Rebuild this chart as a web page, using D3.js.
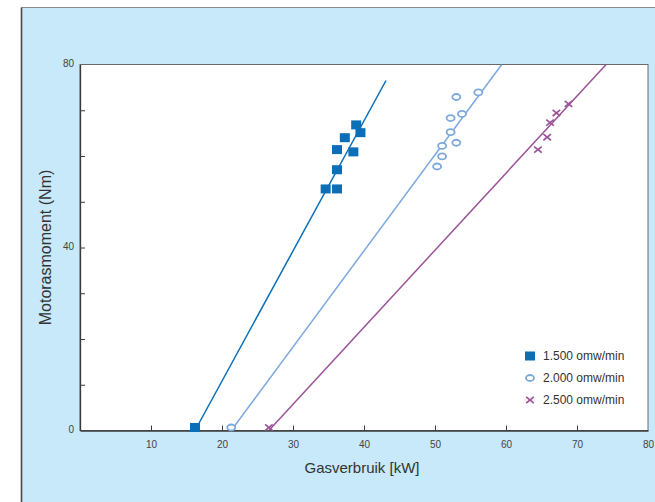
<!DOCTYPE html>
<html>
<head>
<meta charset="utf-8">
<script src="https://cdn.jsdelivr.net/npm/d3@7/dist/d3.min.js"></script>
<style>
  html, body { margin: 0; padding: 0; background: #ffffff; }
  svg { display: block; font-family: "Liberation Sans", Arial, Helvetica, sans-serif; }
</style>
</head>
<body>
<svg id="chart" width="655" height="502"></svg>
<script>
// Motor torque versus gas consumption at three engine speeds
const seriesNames = ["1.500 omw/min", "2.000 omw/min", "2.500 omw/min"];
const seriesColors = ["#0a6fb7", "#7ca8dd", "#9b5398"];
const seriesShapes = ["square", "circle", "cross"];

// measured points [gas kW, torque Nm]
const points1500 = [[16.2, 0], [34.6, 52.8], [36.2, 52.8], [36.2, 57.0], [36.2, 61.4],
                    [38.5, 60.9], [37.3, 64.0], [39.5, 65.1], [38.9, 66.8]];
const points2000 = [[21.3, 0], [50.3, 57.7], [51.0, 59.9], [51.0, 62.2], [53.0, 62.9],
                    [52.2, 65.2], [52.2, 68.3], [53.8, 69.2], [53.0, 72.9], [56.1, 73.9]];
const points2500 = [[26.6, 0], [64.5, 61.4], [65.8, 64.1], [66.2, 67.3], [67.1, 69.4], [68.8, 71.4]];

// fitted lines, start and end [gas kW, torque Nm]
const fit1500 = [[16.2, 0], [43.1, 76.5]];
const fit2000 = [[21.3, 0], [59.4, 80]];
const fit2500 = [[26.6, 0], [74.1, 80]];

const xTicks = [10, 20, 30, 40, 50, 60, 70, 80];
const yTicks = [0, 10, 20, 30, 40, 50, 60, 70, 80];
const yLabels = [0, 40, 80];

const allPoints = [points1500, points2000, points2500];
const allFits = [fit1500, fit2000, fit2500];

const svg = d3.select("#chart");

// light blue panel
svg.append("rect")
  .attr("x", 21.5).attr("y", 7.5)
  .attr("width", 700).attr("height", 600)
  .attr("fill", "#c8e9f9");
svg.append("line").attr("x1", 21.5).attr("x2", 655).attr("y1", 7.5).attr("y2", 7.5)
  .attr("stroke", "#8a8a8a").attr("stroke-width", 1);
svg.append("line").attr("x1", 21.5).attr("x2", 21.5).attr("y1", 7.5).attr("y2", 502)
  .attr("stroke", "#4a4a4a").attr("stroke-width", 1.6);

const plotLeft = 80, plotRight = 648, plotTop = 64.5, plotBottom = 430.5;
const x = d3.scaleLinear().domain([0, 80]).range([plotLeft, plotRight]);
const y = d3.scaleLinear().domain([0, 80]).range([plotBottom, plotTop]);

// plot area
svg.append("rect")
  .attr("x", plotLeft).attr("y", plotTop)
  .attr("width", plotRight - plotLeft).attr("height", plotBottom - plotTop)
  .attr("fill", "#ffffff")
  .attr("stroke", "#6a6a6a").attr("stroke-width", 1);

svg.append("defs").append("clipPath").attr("id", "plotClip")
  .append("rect").attr("x", plotLeft).attr("y", plotTop)
  .attr("width", plotRight - plotLeft).attr("height", plotBottom - plotTop);

// x axis: inward ticks, labels underneath
const xAxis = d3.axisBottom(x).tickValues(xTicks).tickSize(0).tickPadding(10)
  .tickFormat(d3.format("d"));
const gx = svg.append("g").attr("transform", `translate(0,${plotBottom})`).call(xAxis);
gx.select(".domain").attr("stroke", "#3a3a3a").attr("stroke-width", 1.3);
gx.selectAll(".tick text").attr("fill", "#444").attr("font-size", 10)
  .attr("font-family", "Liberation Sans, Arial, sans-serif");
gx.selectAll(".tick").filter(d => d < 80).append("line")
  .attr("y1", 0).attr("y2", -5).attr("stroke", "#3a3a3a");

// y axis: inward ticks every 10, labels at 0, 40, 80
const yAxis = d3.axisLeft(y).tickValues(yTicks).tickSize(0).tickPadding(6)
  .tickFormat(d => yLabels.includes(d) ? d3.format("d")(d) : "");
const gy = svg.append("g").attr("transform", `translate(${plotLeft},0)`).call(yAxis);
gy.select(".domain").attr("stroke", "#3a3a3a").attr("stroke-width", 1.3);
gy.selectAll(".tick text").attr("fill", "#444").attr("font-size", 10)
  .attr("font-family", "Liberation Sans, Arial, sans-serif").attr("dy", "0.2em");
gy.selectAll(".tick").filter(d => d > 0 && d < 80).append("line")
  .attr("x1", 0).attr("x2", 5).attr("stroke", "#3a3a3a");

// axis titles
svg.append("text")
  .attr("x", (plotLeft + plotRight) / 2 - 2).attr("y", 473)
  .attr("text-anchor", "middle").attr("font-size", 15).attr("fill", "#333")
  .text("Gasverbruik [kW]");
svg.append("text")
  .attr("transform", `translate(51,${(plotTop + plotBottom) / 2}) rotate(-90)`)
  .attr("text-anchor", "middle").attr("font-size", 16).attr("fill", "#333")
  .text("Motorasmoment (Nm)");

// fit lines
const line = d3.line().x(d => x(d[0])).y(d => y(d[1]));
const lines = svg.append("g").attr("clip-path", "url(#plotClip)");
allFits.forEach((f, i) => {
  lines.append("path").attr("d", line(f))
    .attr("fill", "none").attr("stroke", seriesColors[i]).attr("stroke-width", 1.5);
});

function drawMarker(g, shape, color, cx, cy) {
  if (shape === "square") {
    g.append("rect").attr("x", cx - 5).attr("y", cy - 4.5)
      .attr("width", 10).attr("height", 9).attr("fill", color);
  } else if (shape === "circle") {
    g.append("ellipse").attr("cx", cx).attr("cy", cy).attr("rx", 4).attr("ry", 3)
      .attr("fill", "#ffffff").attr("stroke", color).attr("stroke-width", 1.8);
  } else {
    const s = 3.8;
    g.append("path")
      .attr("d", `M${cx - s},${cy - s * 0.8}L${cx + s},${cy + s * 0.8}M${cx - s},${cy + s * 0.8}L${cx + s},${cy - s * 0.8}`)
      .attr("stroke", color).attr("stroke-width", 1.7).attr("fill", "none");
  }
}

// markers
const marks = svg.append("g");
allPoints.forEach((pts, i) => {
  pts.forEach(p => {
    const cy = p[1] === 0 ? y(p[1]) - 3 : y(p[1]);
    drawMarker(marks, seriesShapes[i], seriesColors[i], x(p[0]), cy);
  });
});

// legend
const legend = svg.append("g");
seriesNames.forEach((name, i) => {
  const ly = 356 + i * 22;
  drawMarker(legend, seriesShapes[i], seriesColors[i], 530, ly);
  legend.append("text").attr("x", 543).attr("y", ly + 4)
    .attr("font-size", 12).attr("fill", "#333").text(name);
});
</script>
</body>
</html>
